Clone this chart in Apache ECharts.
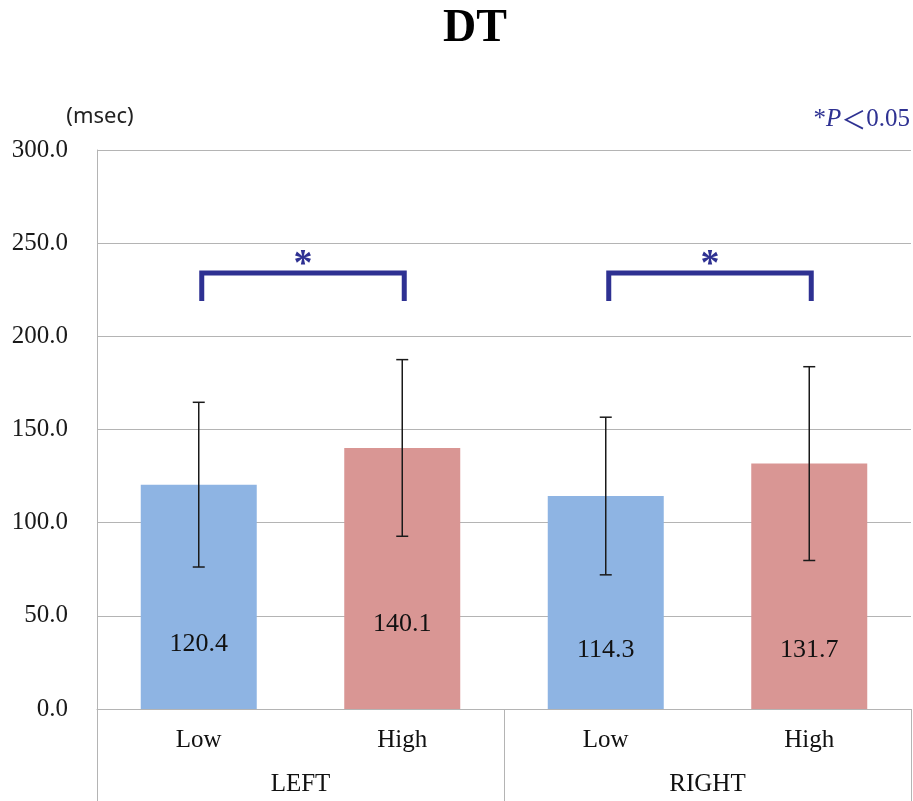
<!DOCTYPE html>
<html>
<head>
<meta charset="utf-8">
<script src="https://cdn.jsdelivr.net/npm/echarts@6/dist/echarts.min.js"></script>
<style>html,body{margin:0;padding:0;background:#fff}#c{width:913px;height:801px}</style>
</head>
<body>
<div id="c"></div>
<script>
// ---- data ----
const subLabels = ['Low', 'High', 'Low', 'High'];
const groupLabels = ['LEFT', 'RIGHT'];
const means = [120.4, 140.1, 114.3, 131.7];
const sds = [44.2, 47.4, 42.3, 52.0];
const yTicks = [0, 50, 100, 150, 200, 250, 300];
const brackets = [[0, 1], [2, 3]];   // significant pairs (category indices)

// ---- style ----
const barColors = ['#8EB4E3', '#D99694'];
const labelLift = [52, 72, 46, 46];
const sigColor = '#2E3192';
const serif = '"Liberation Serif", "Times New Roman", serif';
const cjk = '"Noto Sans CJK JP", sans-serif';
const grayLine = '#B4B4B4';
const bracketLow = 219, bracketHigh = 234, starLevel = 242;

const chart = echarts.init(document.getElementById('c'), null, {renderer: 'canvas'});

const errData = means.map((m, i) => [i, m - sds[i], m + sds[i]]);

chart.setOption({
  animation: false,
  grid: {left: 97, right: 2, top: 150, bottom: 92, containLabel: false},
  graphic: [
    {type: 'text', x: 475, y: 29, style: {text: 'DT', font: 'bold 46px ' + serif, fill: '#000', align: 'center', verticalAlign: 'middle'}},
    {type: 'text', x: 100, y: 117, style: {text: '(msec)', font: '22px "Noto Sans", sans-serif', fill: '#222', align: 'center', verticalAlign: 'middle'}},
    {type: 'text', right: 3, top: 107, style: {
      text: '{a|*}{p|P}{c|＜}{a|0.05}',
      rich: {
        a: {fontFamily: serif, fontSize: 25, fill: sigColor, color: sigColor},
        p: {fontFamily: serif, fontSize: 25, fontStyle: 'italic', fill: sigColor, color: sigColor},
        c: {fontFamily: cjk, fontSize: 25, fill: sigColor, color: sigColor}
      }
    }}
  ],
  xAxis: [
    {
      type: 'category', data: subLabels, position: 'bottom',
      axisLine: {show: true, lineStyle: {color: grayLine, width: 1}},
      axisTick: {show: false},
      axisLabel: {fontFamily: serif, fontSize: 25, color: '#111', margin: 19, lineHeight: 25}
    },
    {
      type: 'category', data: groupLabels, position: 'bottom', offset: 0,
      axisLine: {show: false},
      axisTick: {show: true, length: 92, lineStyle: {color: grayLine, width: 1}},
      axisLabel: {fontFamily: serif, fontSize: 25, color: '#111', margin: 63, lineHeight: 25}
    }
  ],
  yAxis: {
    type: 'value', min: yTicks[0], max: yTicks[yTicks.length - 1], interval: 50,
    axisLine: {show: true, lineStyle: {color: grayLine, width: 1}},
    axisTick: {show: false},
    splitLine: {show: true, lineStyle: {color: grayLine, width: 1.2}},
    axisLabel: {fontFamily: serif, fontSize: 25, color: '#1a1a1a', margin: 29, formatter: v => v.toFixed(1)}
  },
  series: [
    {
      type: 'bar', xAxisIndex: 0, data: means, barWidth: '57%',
      itemStyle: {color: p => barColors[p.dataIndex % 2]},
      label: {
        show: true, position: 'insideBottom', fontFamily: serif, fontSize: 26, color: '#111',
        formatter: p => p.value.toFixed(1)
      },
      labelLayout: p => ({dy: -labelLift[p.dataIndex] + 5}),
      z: 2
    },
    {
      type: 'custom', xAxisIndex: 0, data: errData, z: 5, clip: false,
      renderItem: (params, api) => {
        const x = api.value(0);
        const lo = api.coord([x, api.value(1)]);
        const hi = api.coord([x, api.value(2)]);
        const w = 6;
        const st = {stroke: '#1a1a1a', lineWidth: 1.5};
        return {type: 'group', children: [
          {type: 'line', shape: {x1: lo[0], y1: lo[1], x2: hi[0], y2: hi[1]}, style: st},
          {type: 'line', shape: {x1: hi[0] - w, y1: hi[1], x2: hi[0] + w, y2: hi[1]}, style: st},
          {type: 'line', shape: {x1: lo[0] - w, y1: lo[1], x2: lo[0] + w, y2: lo[1]}, style: st}
        ]};
      }
    },
    {
      type: 'custom', xAxisIndex: 0, data: brackets, z: 6, clip: false,
      renderItem: (params, api) => {
        const a = api.value(0), b = api.value(1);
        const p1 = api.coord([a, bracketLow]);
        const p2 = api.coord([a, bracketHigh]);
        const p3 = api.coord([b, bracketHigh]);
        const p4 = api.coord([b, bracketLow]);
        const s = api.coord([(a + b) / 2, starLevel]);
        return {type: 'group', children: [
          {type: 'polyline', shape: {points: [[p1[0] + 3, p1[1]], [p2[0] + 3, p2[1]], [p3[0] + 2, p3[1]], [p4[0] + 2, p4[1]]]},
           style: {stroke: sigColor, lineWidth: 5, fill: null, lineJoin: 'miter'}},
          {type: 'text', x: (p2[0] + p3[0]) / 2 + 2.5, y: s[1] + 7,
           style: {text: '*', font: 'bold 38px ' + serif, fill: sigColor, align: 'center', verticalAlign: 'middle'}}
        ]};
      }
    }
  ]
});
</script>
</body>
</html>
